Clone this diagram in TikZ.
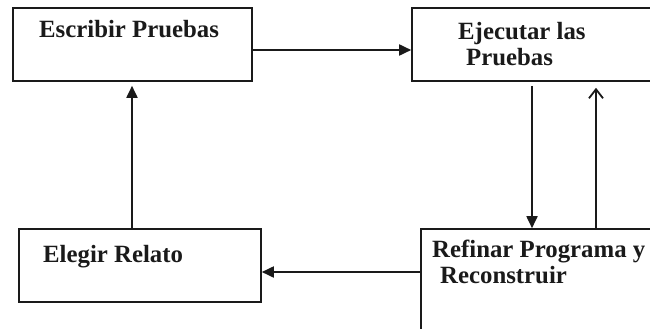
\documentclass[tikz,border=0pt]{standalone}
\usepackage{fontspec}
\setmainfont{Liberation Serif}
\usetikzlibrary{arrows.meta}
\definecolor{ink}{HTML}{1A1A1A}
\tikzset{
  box/.style={draw=ink, line width=1.6pt, rectangle, inner sep=0pt},
  lbl/.style={anchor=base west, inner sep=0pt, text=ink, font=\fontsize{24.8}{25}\selectfont\bfseries},
  arr/.style={draw=ink, line width=1.8pt, -{Triangle[length=12pt,width=11pt]}},
  openarr/.style={draw=ink, line width=1.8pt, -{Straight Barb[length=9pt,width=14pt,line width=1.8pt]}}
}
\begin{document}
\begin{tikzpicture}[x=1pt,y=-1pt]
\useasboundingbox (0,0) rectangle (650,329);
\clip (0,0) rectangle (650,329);
\fill[white] (0,0) rectangle (650,329);
% boxes
\node[box, minimum width=239pt, minimum height=73pt] (b1) at (132.5,44.5) {};
\node[box, minimum width=288pt, minimum height=73pt] (b2) at (556,44.5) {};
\node[box, minimum width=242pt, minimum height=73pt] (b3) at (140,265.5) {};
\node[box, minimum width=280pt, minimum height=150pt] (b4) at (561,304) {};
% texts
\node[lbl] (t1) at (39,37.5) {Escribir Pruebas};
\node[lbl] (t2a) at (458,40) {Ejecutar las};
\node[lbl] (t2b) at (466,65) {Pruebas};
\node[lbl] (t3) at (43,262) {Elegir Relato};
\node[lbl] (t4a) at (432,257) {Refinar Programa y};
\node[lbl] (t4b) at (440,283) {Reconstruir};
% connectors
\draw[arr] (b1.east |- 0,50) -- (b2.west |- 0,50);
\draw[arr, shorten >=4pt] (b3.north -| 132,0) -- (b1.south -| 132,0);
\draw[arr, shorten <=4pt] (b2.south -| 532,0) -- (b4.north -| 532,0);
\draw[openarr, shorten >=6pt] (b4.north -| 596,0) -- (b2.south -| 596,0);
\draw[arr] (b4.west |- 0,272) -- (b3.east |- 0,272);
\end{tikzpicture}
\end{document}
